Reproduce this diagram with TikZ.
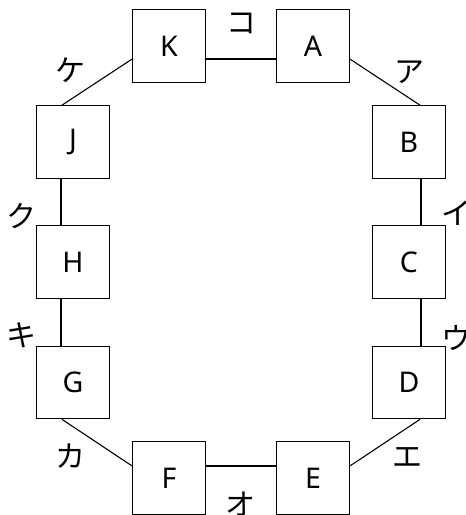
\documentclass[tikz,border=0pt]{standalone}
\usepackage{fontspec}
\setmainfont{Noto Sans}
\newfontfamily\jpfont{Noto Sans CJK JP}
\begin{document}
\begin{tikzpicture}[x=1pt,y=-1pt,
  box/.style={draw,line width=1.2pt,fill=white,minimum size=72.5pt,inner sep=0pt,font=\fontsize{28.5}{28.5}\selectfont},
  lbl/.style={inner sep=0pt,font=\jpfont\fontsize{30}{30}\selectfont},
  conn/.style={line width=1.1pt}]
\useasboundingbox (0,0) rectangle (466,515);
\node[box] (K) at (169,46) {K};
\node[box] (A) at (313,46) {A};
\node[box] (B) at (409,142) {B};
\node[box] (C) at (409,262) {C};
\node[box] (D) at (409,382.5) {D};
\node[box] (E) at (313,478) {E};
\node[box] (F) at (169,478) {F};
\node[box] (G) at (73,382.5) {G};
\node[box] (H) at (73,262) {H};
\node[box] (J) at (73,142) {J};
\draw[conn] ([yshift=-13pt]K.east) -- ([yshift=-13pt]A.west);
\draw[conn] ([yshift=-13pt]A.east) -- ([xshift=11pt]B.north);
\draw[conn] ([xshift=12pt]B.south) -- ([xshift=12pt]C.north);
\draw[conn] ([xshift=12pt]C.south) -- ([xshift=12pt]D.north);
\draw[conn] ([xshift=11pt]D.south) -- ([yshift=12pt]E.east);
\draw[conn] ([yshift=12pt]E.west) -- ([yshift=12pt]F.east);
\draw[conn] ([yshift=12pt]F.west) -- ([xshift=-11pt]G.south);
\draw[conn] ([xshift=-12pt]G.north) -- ([xshift=-12pt]H.south);
\draw[conn] ([xshift=-12pt]H.north) -- ([xshift=-12pt]J.south);
\draw[conn] ([xshift=-11pt]J.north) -- ([yshift=-13pt]K.west);
\node[lbl] (lko) at (241,23) {コ};
\node[lbl] (lab) at (409,72) {ア};
\node[lbl] (lbc) at (456,213) {イ};
\node[lbl] (lcd) at (456,338) {ウ};
\node[lbl] (lde) at (407.5,457.5) {エ};
\node[lbl] (lef) at (240.5,504) {オ};
\node[lbl] (lfg) at (71,456) {カ};
\node[lbl] (lgh) at (21.5,335.5) {キ};
\node[lbl] (lhj) at (21.5,216) {ク};
\node[lbl] (ljk) at (71,70) {ケ};
\end{tikzpicture}
\end{document}
